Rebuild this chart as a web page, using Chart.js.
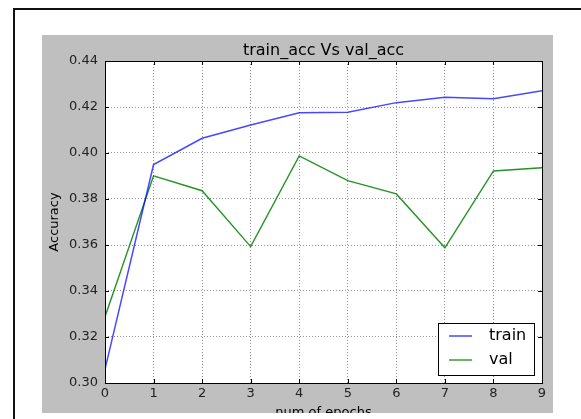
<!DOCTYPE html>
<html>
<head>
<meta charset="utf-8">
<script src="https://cdn.jsdelivr.net/npm/chart.js@4"></script>
<style>
    html, body { margin: 0; padding: 0; background: #fff; overflow: hidden; }
    body { width: 581px; height: 419px; position: relative; }
    #edgeTop { position: absolute; left: 13px; top: 8px; width: 568px; height: 2px; background: #111; }
    #edgeLeft { position: absolute; left: 13px; top: 8px; width: 2px; height: 411px; background: #111; }
    #fig {
        position: absolute; left: 42px; top: 35px; width: 511px; height: 378px;
        background: #bfbfbf; overflow: hidden;
    }
    #fig canvas { position: absolute; left: 0; top: 0; }
</style>
</head>
<body>
<div id="edgeTop"></div>
<div id="edgeLeft"></div>
<div id="fig"><canvas id="accChart" width="511" height="400"></canvas></div>
<script>
// train / val accuracy per epoch
const epochs = [0, 1, 2, 3, 4, 5, 6, 7, 8, 9];
const trainAcc = [0.306, 0.395, 0.4064, 0.4122, 0.4175, 0.4177, 0.4219, 0.4242, 0.4236, 0.4271];
const valAcc = [0.3288, 0.3901, 0.3836, 0.3593, 0.3987, 0.388, 0.3822, 0.3588, 0.3922, 0.3936];
const yTicks = [0.30, 0.32, 0.34, 0.36, 0.38, 0.40, 0.42, 0.44];

const chartTitle = 'train_acc Vs val_acc';
const xTitle = 'num of epochs';
const yTitle = 'Accuracy';

const FONT = "'DejaVu Sans', sans-serif";

// matplotlib style frame: white axes face, spine, inward ticks, title, legend
const mplDecor = {
    id: 'mplDecor',
    beforeDraw(chart) {
        const a = chart.chartArea;
        chart.ctx.save();
        chart.ctx.fillStyle = '#fff';
        chart.ctx.fillRect(a.left, a.top, a.right - a.left, a.bottom - a.top);
        chart.ctx.restore();
    },
    afterDraw(chart) {
        const ctx = chart.ctx;
        const a = chart.chartArea;
        const xs = chart.scales.x;
        const ys = chart.scales.y;

        ctx.save();
        ctx.strokeStyle = '#000';
        ctx.lineWidth = 1;

        // inward tick marks on all four sides
        ctx.beginPath();
        epochs.forEach(function (v) {
            const px = Math.round(xs.getPixelForValue(v)) + 0.5;
            ctx.moveTo(px, a.bottom); ctx.lineTo(px, a.bottom - 4);
            ctx.moveTo(px, a.top); ctx.lineTo(px, a.top + 4);
        });
        yTicks.forEach(function (v) {
            const py = Math.round(ys.getPixelForValue(v)) + 0.5;
            ctx.moveTo(a.left, py); ctx.lineTo(a.left + 4, py);
            ctx.moveTo(a.right, py); ctx.lineTo(a.right - 4, py);
        });
        ctx.stroke();

        // spine
        ctx.strokeRect(Math.round(a.left) + 0.5, Math.round(a.top) + 0.5,
            Math.round(a.right - a.left), Math.round(a.bottom - a.top));

        // title
        ctx.fillStyle = '#000';
        ctx.font = '16px ' + FONT;
        ctx.textAlign = 'center';
        ctx.textBaseline = 'alphabetic';
        ctx.fillText(chartTitle, (a.left + a.right) / 2, a.top - 6);

        // legend, lower right
        const w = 96, h = 52;
        const lx = a.right - 8 - w;
        const ly = a.bottom - 8 - h;
        ctx.fillStyle = '#fff';
        ctx.fillRect(lx, ly, w, h);
        ctx.strokeStyle = '#000';
        ctx.strokeRect(Math.round(lx) + 0.5, Math.round(ly) + 0.5, w, h);
        ctx.font = '16px ' + FONT;
        ctx.textAlign = 'left';
        ctx.textBaseline = 'middle';
        chart.data.datasets.forEach(function (ds, i) {
            const cy = ly + 13 + i * 24;
            ctx.strokeStyle = ds.borderColor;
            ctx.lineWidth = ds.borderWidth;
            ctx.beginPath();
            ctx.moveTo(lx + 11, cy);
            ctx.lineTo(lx + 34, cy);
            ctx.stroke();
            ctx.fillStyle = '#000';
            ctx.fillText(ds.label, lx + 51, cy);
        });
        ctx.restore();
    }
};

new Chart(document.getElementById('accChart'), {
    type: 'line',
    data: {
        datasets: [{
            label: 'train',
            data: epochs.map(function (e, i) { return { x: e, y: trainAcc[i] }; }),
            borderColor: 'rgba(0,0,255,0.72)',
            borderWidth: 1.5,
            pointRadius: 0,
            tension: 0,
            fill: false
        }, {
            label: 'val',
            data: epochs.map(function (e, i) { return { x: e, y: valAcc[i] }; }),
            borderColor: 'rgba(0,128,0,0.85)',
            borderWidth: 1.4,
            pointRadius: 0,
            tension: 0,
            fill: false
        }]
    },
    options: {
        responsive: false,
        devicePixelRatio: 1,
        animation: false,
        layout: {
            padding: { top: 26, right: 11, left: 0, bottom: 0 }
        },
        plugins: {
            legend: { display: false },
            tooltip: { enabled: false },
            title: { display: false }
        },
        scales: {
            x: {
                type: 'linear',
                min: 0,
                max: 9,
                afterFit: function (scale) { scale.height = 52; },
                afterBuildTicks: function (scale) {
                    scale.ticks = epochs.map(function (v) { return { value: v }; });
                },
                ticks: {
                    color: '#222',
                    padding: 3,
                    maxRotation: 0,
                    font: { family: FONT, size: 13 },
                    callback: function (v) { return String(v); }
                },
                grid: {
                    color: 'rgba(0,0,0,0.42)',
                    lineWidth: 1,
                    drawTicks: false
                },
                border: { display: false, dash: [1, 2] },
                title: {
                    display: true,
                    text: xTitle,
                    color: '#000',
                    font: { family: FONT, size: 13 },
                    padding: { top: 0, bottom: 15 }
                }
            },
            y: {
                min: 0.30,
                max: 0.44,
                afterFit: function (scale) { scale.width = 63; },
                afterBuildTicks: function (scale) {
                    scale.ticks = yTicks.map(function (v) { return { value: v }; });
                },
                ticks: {
                    color: '#222',
                    padding: 7,
                    font: { family: FONT, size: 13 },
                    callback: function (v) { return v.toFixed(2); }
                },
                grid: {
                    color: 'rgba(0,0,0,0.42)',
                    lineWidth: 1,
                    drawTicks: false
                },
                border: { display: false, dash: [1, 2] },
                title: {
                    display: true,
                    text: yTitle,
                    color: '#000',
                    font: { family: FONT, size: 13 },
                    padding: { top: 5, bottom: 0 }
                }
            }
        }
    },
    plugins: [mplDecor]
});
</script>
</body>
</html>
